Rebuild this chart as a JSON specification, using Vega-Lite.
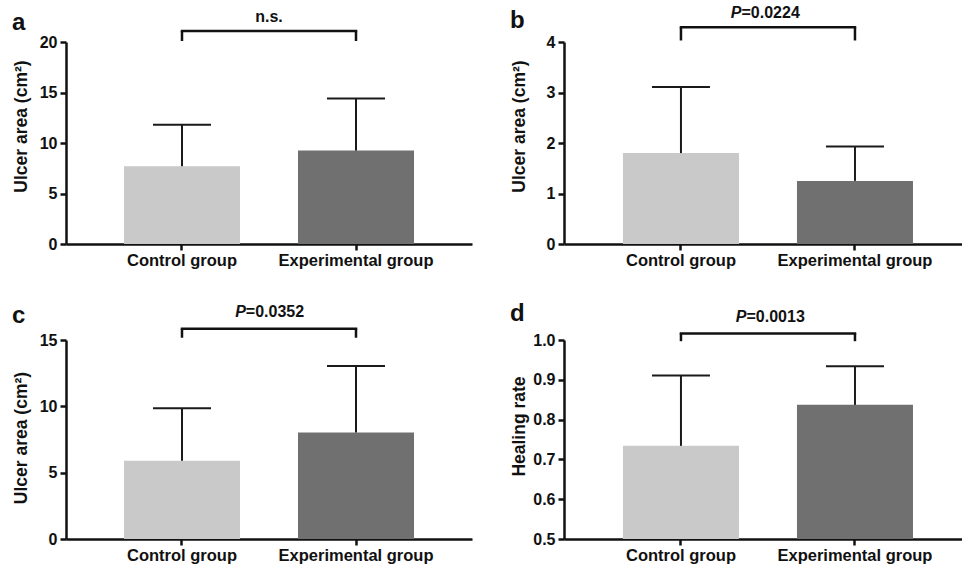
{
  "$schema": "https://vega.github.io/schema/vega-lite/v6.json",
  "padding": {"left": 12, "top": 5, "right": 0, "bottom": 0},
  "data": {"values": [
    {"panel": "a", "group": "Control group", "mean": 7.7, "upper": 11.8},
    {"panel": "a", "group": "Experimental group", "mean": 9.25, "upper": 14.4},
    {"panel": "b", "group": "Control group", "mean": 1.8, "upper": 3.11},
    {"panel": "b", "group": "Experimental group", "mean": 1.25, "upper": 1.93},
    {"panel": "c", "group": "Control group", "mean": 5.9, "upper": 9.85},
    {"panel": "c", "group": "Experimental group", "mean": 8.03, "upper": 13.04},
    {"panel": "d", "group": "Control group", "mean": 0.734, "upper": 0.911},
    {"panel": "d", "group": "Experimental group", "mean": 0.837, "upper": 0.934}
  ]},
  "columns": 2,
  "spacing": {"row": 32, "column": 38},
  "concat": [
    {
      "width": 406, "height": 202,
      "title": {"text": "a", "anchor": "start", "fontSize": 24, "fontWeight": "bold", "baseline": "alphabetic", "offset": -19, "dy": 26, "color": "#111", "font": "Liberation Sans"},
      "transform": [{"filter": "datum.panel === 'a'"}],
      "encoding": {"x": {"field": "group", "type": "nominal", "sort": null, "title": null, "scale": {"paddingInner": 0.3333, "paddingOuter": 0.3333}}},
      "layer": [
        {"mark": {"type": "bar"}, "encoding": {
          "y": {"field": "mean", "type": "quantitative", "title": "Ulcer area (cm²)", "scale": {"domain": [0, 20], "nice": false}, "axis": {"title": "Ulcer area (cm²)", "values": [0, 5, 10, 15, 20], "tickCount": 20, "format": "d", "labelOverlap": false, "titleX": -40, "titleY": 84, "titleBaseline": "alphabetic", "labelPadding": 3}},
          "color": {"field": "group", "type": "nominal", "scale": {"domain": ["Control group", "Experimental group"], "range": ["#c9c9c9", "#707070"]}, "legend": null}}},
        {"mark": {"type": "rule", "color": "#1a1a1a", "strokeWidth": 2}, "encoding": {
          "y": {"field": "mean", "type": "quantitative", "title": "Ulcer area (cm²)"}, "y2": {"field": "upper"}}},
        {"mark": {"type": "tick", "orient": "horizontal", "size": 58, "thickness": 2, "color": "#1a1a1a", "opacity": 1}, "encoding": {
          "y": {"field": "upper", "type": "quantitative", "title": "Ulcer area (cm²)"}}},
        {"mark": {"type": "rule", "color": "#111", "strokeWidth": 2.5}, "encoding": {
          "y": {"datum": 20.1}, "y2": {"datum": 21.08}}},
        {"transform": [{"filter": "datum.group === 'Control group'"}],
         "mark": {"type": "rule", "color": "#111", "strokeWidth": 2.5, "strokeCap": "square"}, "encoding": {
          "x": {"datum": "Control group"}, "x2": {"datum": "Experimental group"}, "y": {"datum": 21.08}}},
        {"transform": [{"filter": "datum.group === 'Control group'"}],
         "mark": {"type": "text", "font": "Liberation Sans", "fontWeight": "bold", "fontSize": 16, "color": "#111", "baseline": "alphabetic", "align": "center"}, "encoding": {
          "x": {"datum": "Control group", "bandPosition": 1.25}, "y": {"datum": 22.0}, "text": {"value": "n.s."}}}
      ]
    },
    {
      "width": 398, "height": 202,
      "title": {"text": "b", "anchor": "start", "fontSize": 24, "fontWeight": "bold", "baseline": "alphabetic", "offset": -21, "dy": 26, "color": "#111", "font": "Liberation Sans"},
      "transform": [{"filter": "datum.panel === 'b'"}],
      "encoding": {"x": {"field": "group", "type": "nominal", "sort": null, "title": null, "scale": {"paddingInner": 0.3333, "paddingOuter": 0.3103, "align": 0.546}}},
      "layer": [
        {"mark": {"type": "bar"}, "encoding": {
          "y": {"field": "mean", "type": "quantitative", "title": "Ulcer area (cm²)", "scale": {"domain": [0, 4], "nice": false}, "axis": {"title": "Ulcer area (cm²)", "values": [0, 1, 2, 3, 4], "tickCount": 20, "format": "d", "labelOverlap": false, "titleX": -40, "titleY": 84, "titleBaseline": "alphabetic", "labelPadding": 3}},
          "color": {"field": "group", "type": "nominal", "scale": {"domain": ["Control group", "Experimental group"], "range": ["#c9c9c9", "#707070"]}, "legend": null}}},
        {"mark": {"type": "rule", "color": "#1a1a1a", "strokeWidth": 2}, "encoding": {
          "y": {"field": "mean", "type": "quantitative", "title": "Ulcer area (cm²)"}, "y2": {"field": "upper"}}},
        {"mark": {"type": "tick", "orient": "horizontal", "size": 58, "thickness": 2, "color": "#1a1a1a", "opacity": 1}, "encoding": {
          "y": {"field": "upper", "type": "quantitative", "title": "Ulcer area (cm²)"}}},
        {"mark": {"type": "rule", "color": "#111", "strokeWidth": 2.5}, "encoding": {
          "y": {"datum": 4.03}, "y2": {"datum": 4.29}}},
        {"transform": [{"filter": "datum.group === 'Control group'"}],
         "mark": {"type": "rule", "color": "#111", "strokeWidth": 2.5, "strokeCap": "square"}, "encoding": {
          "x": {"datum": "Control group"}, "x2": {"datum": "Experimental group"}, "y": {"datum": 4.29}}},
        {"transform": [{"filter": "datum.group === 'Control group'"}],
         "mark": {"type": "text", "font": "Liberation Sans", "fontWeight": "bold", "fontStyle": "italic", "fontSize": 16, "color": "#111", "baseline": "alphabetic", "align": "right"}, "encoding": {
          "x": {"datum": "Control group", "bandPosition": 1.022}, "y": {"datum": 4.47}, "text": {"value": "P"}}},
        {"transform": [{"filter": "datum.group === 'Control group'"}],
         "mark": {"type": "text", "font": "Liberation Sans", "fontWeight": "bold", "fontSize": 16, "color": "#111", "baseline": "alphabetic", "align": "left"}, "encoding": {
          "x": {"datum": "Control group", "bandPosition": 1.022}, "y": {"datum": 4.47}, "text": {"value": "=0.0224"}}}
      ]
    },
    {
      "width": 406, "height": 199,
      "title": {"text": "c", "anchor": "start", "fontSize": 24, "fontWeight": "bold", "baseline": "alphabetic", "offset": -16, "dy": 27, "color": "#111", "font": "Liberation Sans"},
      "transform": [{"filter": "datum.panel === 'c'"}],
      "encoding": {"x": {"field": "group", "type": "nominal", "sort": null, "title": null, "scale": {"paddingInner": 0.3333, "paddingOuter": 0.3333}}},
      "layer": [
        {"mark": {"type": "bar"}, "encoding": {
          "y": {"field": "mean", "type": "quantitative", "title": "Ulcer area (cm²)", "scale": {"domain": [0, 15], "nice": false}, "axis": {"title": "Ulcer area (cm²)", "values": [0, 5, 10, 15], "tickCount": 20, "format": "d", "labelOverlap": false, "titleX": -40, "titleY": 97.5, "titleBaseline": "alphabetic", "labelPadding": 3}},
          "color": {"field": "group", "type": "nominal", "scale": {"domain": ["Control group", "Experimental group"], "range": ["#c9c9c9", "#707070"]}, "legend": null}}},
        {"mark": {"type": "rule", "color": "#1a1a1a", "strokeWidth": 2}, "encoding": {
          "y": {"field": "mean", "type": "quantitative", "title": "Ulcer area (cm²)"}, "y2": {"field": "upper"}}},
        {"mark": {"type": "tick", "orient": "horizontal", "size": 58, "thickness": 2, "color": "#1a1a1a", "opacity": 1}, "encoding": {
          "y": {"field": "upper", "type": "quantitative", "title": "Ulcer area (cm²)"}}},
        {"mark": {"type": "rule", "color": "#111", "strokeWidth": 2.5}, "encoding": {
          "y": {"datum": 15.17}, "y2": {"datum": 15.85}}},
        {"transform": [{"filter": "datum.group === 'Control group'"}],
         "mark": {"type": "rule", "color": "#111", "strokeWidth": 2.5, "strokeCap": "square"}, "encoding": {
          "x": {"datum": "Control group"}, "x2": {"datum": "Experimental group"}, "y": {"datum": 15.85}}},
        {"transform": [{"filter": "datum.group === 'Control group'"}],
         "mark": {"type": "text", "font": "Liberation Sans", "fontWeight": "bold", "fontStyle": "italic", "fontSize": 16, "color": "#111", "baseline": "alphabetic", "align": "right"}, "encoding": {
          "x": {"datum": "Control group", "bandPosition": 1.05}, "y": {"datum": 16.7}, "text": {"value": "P"}}},
        {"transform": [{"filter": "datum.group === 'Control group'"}],
         "mark": {"type": "text", "font": "Liberation Sans", "fontWeight": "bold", "fontSize": 16, "color": "#111", "baseline": "alphabetic", "align": "left"}, "encoding": {
          "x": {"datum": "Control group", "bandPosition": 1.05}, "y": {"datum": 16.7}, "text": {"value": "=0.0352"}}}
      ]
    },
    {
      "width": 398, "height": 199,
      "title": {"text": "d", "anchor": "start", "fontSize": 24, "fontWeight": "bold", "baseline": "alphabetic", "offset": -12, "dy": 24, "color": "#111", "font": "Liberation Sans"},
      "transform": [{"filter": "datum.panel === 'd'"}],
      "encoding": {"x": {"field": "group", "type": "nominal", "sort": null, "title": null, "scale": {"paddingInner": 0.3333, "paddingOuter": 0.3103, "align": 0.546}}},
      "layer": [
        {"mark": {"type": "bar"}, "encoding": {
          "y": {"field": "mean", "type": "quantitative", "title": "Healing rate", "scale": {"domain": [0.5, 1.0], "nice": false, "zero": false}, "axis": {"title": "Healing rate", "values": [0.5, 0.6, 0.7, 0.8, 0.9, 1.0], "tickCount": 20, "format": ".1f", "labelOverlap": false, "titleX": -40, "titleY": 86, "titleBaseline": "alphabetic", "labelPadding": 3}},
          "y2": {"datum": 0.5},
          "color": {"field": "group", "type": "nominal", "scale": {"domain": ["Control group", "Experimental group"], "range": ["#c9c9c9", "#707070"]}, "legend": null}}},
        {"mark": {"type": "rule", "color": "#1a1a1a", "strokeWidth": 2}, "encoding": {
          "y": {"field": "mean", "type": "quantitative", "title": "Healing rate"}, "y2": {"field": "upper"}}},
        {"mark": {"type": "tick", "orient": "horizontal", "size": 58, "thickness": 2, "color": "#1a1a1a", "opacity": 1}, "encoding": {
          "y": {"field": "upper", "type": "quantitative", "title": "Healing rate"}}},
        {"mark": {"type": "rule", "color": "#111", "strokeWidth": 2.5}, "encoding": {
          "y": {"datum": 0.997}, "y2": {"datum": 1.0166}}},
        {"transform": [{"filter": "datum.group === 'Control group'"}],
         "mark": {"type": "rule", "color": "#111", "strokeWidth": 2.5, "strokeCap": "square"}, "encoding": {
          "x": {"datum": "Control group"}, "x2": {"datum": "Experimental group"}, "y": {"datum": 1.0166}}},
        {"transform": [{"filter": "datum.group === 'Control group'"}],
         "mark": {"type": "text", "font": "Liberation Sans", "fontWeight": "bold", "fontStyle": "italic", "fontSize": 16, "color": "#111", "baseline": "alphabetic", "align": "right"}, "encoding": {
          "x": {"datum": "Control group", "bandPosition": 1.065}, "y": {"datum": 1.0464}, "text": {"value": "P"}}},
        {"transform": [{"filter": "datum.group === 'Control group'"}],
         "mark": {"type": "text", "font": "Liberation Sans", "fontWeight": "bold", "fontSize": 16, "color": "#111", "baseline": "alphabetic", "align": "left"}, "encoding": {
          "x": {"datum": "Control group", "bandPosition": 1.065}, "y": {"datum": 1.0464}, "text": {"value": "=0.0013"}}}
      ]
    }
  ],
  "config": {
    "font": "Liberation Sans",
    "view": {"stroke": null},
    "axis": {"domainColor": "#111", "domainWidth": 2.5, "tickColor": "#111", "tickWidth": 2.5, "tickSize": 6, "labelColor": "#111", "labelFontWeight": "bold", "labelFontSize": 16, "titleColor": "#111", "titleFontWeight": "bold", "titleFontSize": 17.5, "grid": false, "labelFont": "Liberation Sans", "titleFont": "Liberation Sans"},
    "axisX": {"labelAngle": 0, "labelFontSize": 16.5, "labelPadding": 2}
  }
}
